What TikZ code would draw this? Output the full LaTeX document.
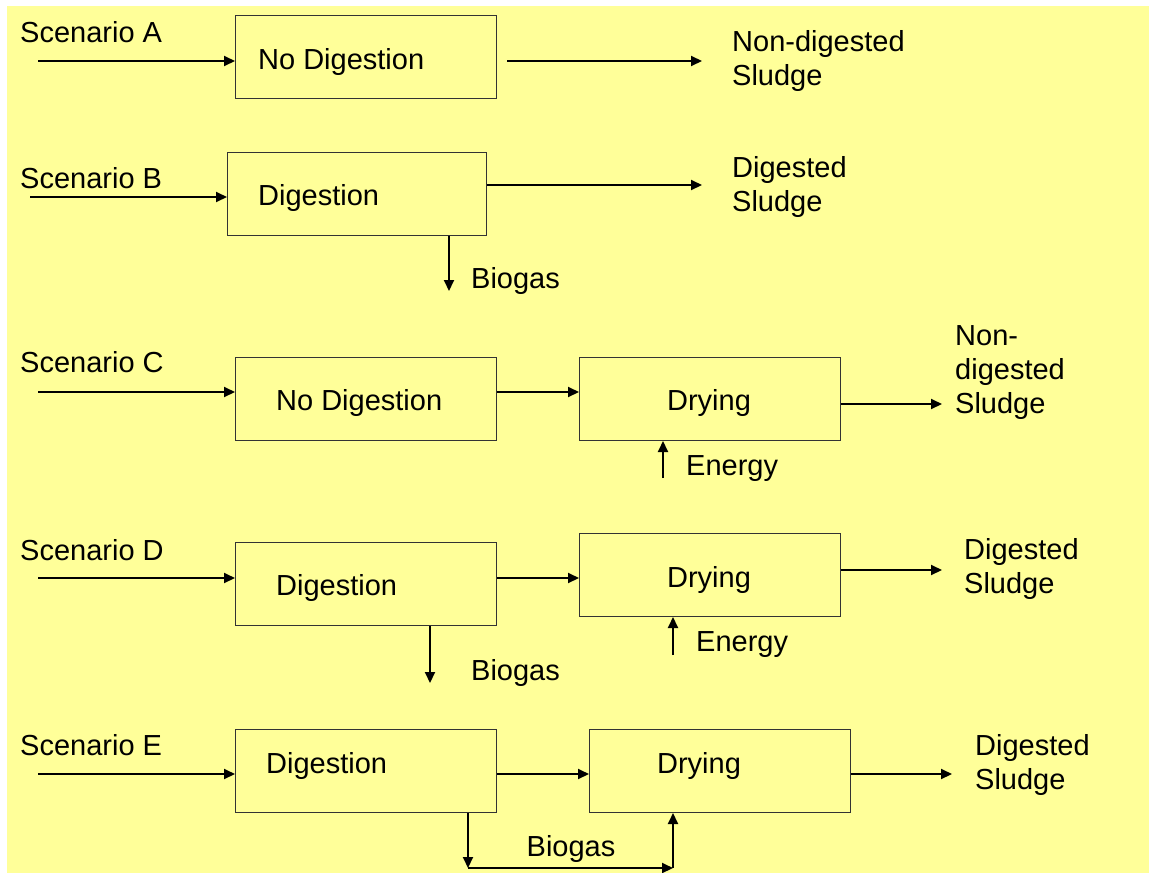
\documentclass[tikz,border=0pt]{standalone}
\usepackage{fontspec}
\setmainfont{Liberation Sans}
\usetikzlibrary{arrows.meta}
\definecolor{bg}{HTML}{FFFF99}
\begin{document}
\begin{tikzpicture}[x=1pt,y=-1pt,
 flow/.style={line width=2pt,-{Triangle[length=11pt,width=10pt]}},
 stagebox/.style={draw=black!80,line width=1pt,anchor=north west,inner sep=0pt,minimum width=261pt,minimum height=83pt},
 lbl/.style={font=\fontsize{29}{34}\selectfont,inner sep=0pt,anchor=base west},
 lblc/.style={font=\fontsize{29}{34}\selectfont,inner sep=0pt,anchor=base},
 outl/.style={font=\fontsize{29}{34}\selectfont,inner sep=0pt,anchor=north west,align=left}]
\useasboundingbox (0,0) rectangle (1149,873);
\fill[bg] (7,6) rectangle (1149,873);

% Scenario A
\node[lbl] (labA) at (20,42) {Scenario A};
\node[stagebox] (boxA) at (235,15) {};
\node[lbl] (txtA) at (258,69) {No Digestion};
\coordinate (inA) at (38,61);
\coordinate (endA) at (702,61);
\draw[flow] (inA) -- (inA -| boxA.west);
\draw[flow] ([xshift=10pt]boxA.east |- endA) -- (endA);
\node[outl] (resA) at (732,30) {Non-digested\\Sludge};

% Scenario B
\node[lbl] (labB) at (20,188) {Scenario B};
\node[stagebox,minimum width=259pt] (boxB) at (227,152) {};
\node[lbl] (txtB) at (258,205) {Digestion};
\coordinate (inB) at (30,197);
\coordinate (endB) at (702,185);
\draw[flow] (inB) -- (inB -| boxB.west);
\draw[flow] (boxB.east |- endB) -- (endB);
\node[outl] (resB) at (732,156) {Digested\\Sludge};
\coordinate (bgB) at (449,291);
\draw[flow] (bgB |- boxB.south) -- (bgB);
\node[lbl] (bgtB) at (471,288) {Biogas};

% Scenario C
\node[lbl] (labC) at (20,372) {Scenario C};
\node[stagebox] (boxC1) at (235,357) {};
\node[lbl] (txtC1) at (276,410) {No Digestion};
\node[stagebox] (boxC2) at (579,357) {};
\node[lblc] (txtC2) at (709,410) {Drying};
\coordinate (inC) at (38,392);
\coordinate (endC) at (942,404);
\draw[flow] (inC) -- (inC -| boxC1.west);
\draw[flow] (boxC1.east |- inC) -- (inC -| boxC2.west);
\draw[flow] (boxC2.east |- endC) -- (endC);
\node[outl] (resC) at (955,325) {Non-\\digested\\Sludge};
\coordinate (enC) at (663,478);
\draw[flow] (enC) -- (enC |- boxC2.south);
\node[lbl] (entC) at (686,475) {Energy};

% Scenario D
\node[lbl] (labD) at (20,560) {Scenario D};
\node[stagebox] (boxD1) at (235,542) {};
\node[lbl] (txtD1) at (276,595) {Digestion};
\node[stagebox] (boxD2) at (579,533) {};
\node[lblc] (txtD2) at (709,587) {Drying};
\coordinate (inD) at (38,578);
\coordinate (endD) at (942,570);
\draw[flow] (inD) -- (inD -| boxD1.west);
\draw[flow] (boxD1.east |- inD) -- (inD -| boxD2.west);
\draw[flow] (boxD2.east |- endD) -- (endD);
\node[outl] (resD) at (964,538) {Digested\\Sludge};
\coordinate (bgD) at (430,683);
\draw[flow] (bgD |- boxD1.south) -- (bgD);
\node[lbl] (bgtD) at (471,680) {Biogas};
\coordinate (enD) at (673,655);
\draw[flow] (enD) -- (enD |- boxD2.south);
\node[lbl] (entD) at (696,651) {Energy};

% Scenario E
\node[lbl] (labE) at (20,755) {Scenario E};
\node[stagebox] (boxE1) at (235,729) {};
\node[lbl] (txtE1) at (266,773) {Digestion};
\node[stagebox] (boxE2) at (589,729) {};
\node[lblc] (txtE2) at (699,773) {Drying};
\coordinate (inE) at (38,774);
\coordinate (endE) at (952,774);
\draw[flow] (inE) -- (inE -| boxE1.west);
\draw[flow] (boxE1.east |- inE) -- (inE -| boxE2.west);
\draw[flow] (boxE2.east |- endE) -- (endE);
\node[outl] (resE) at (975,734) {Digested\\Sludge};
\coordinate (bgE1) at (468,868);
\coordinate (bgE2) at (673,868);
\draw[flow] (bgE1 |- boxE1.south) -- (bgE1);
\draw[flow] (bgE1) -- (bgE2);
\draw[flow] (bgE2) -- (bgE2 |- boxE2.south);
\node[lblc] (bgtE) at (571,856) {Biogas};
\end{tikzpicture}
\end{document}
